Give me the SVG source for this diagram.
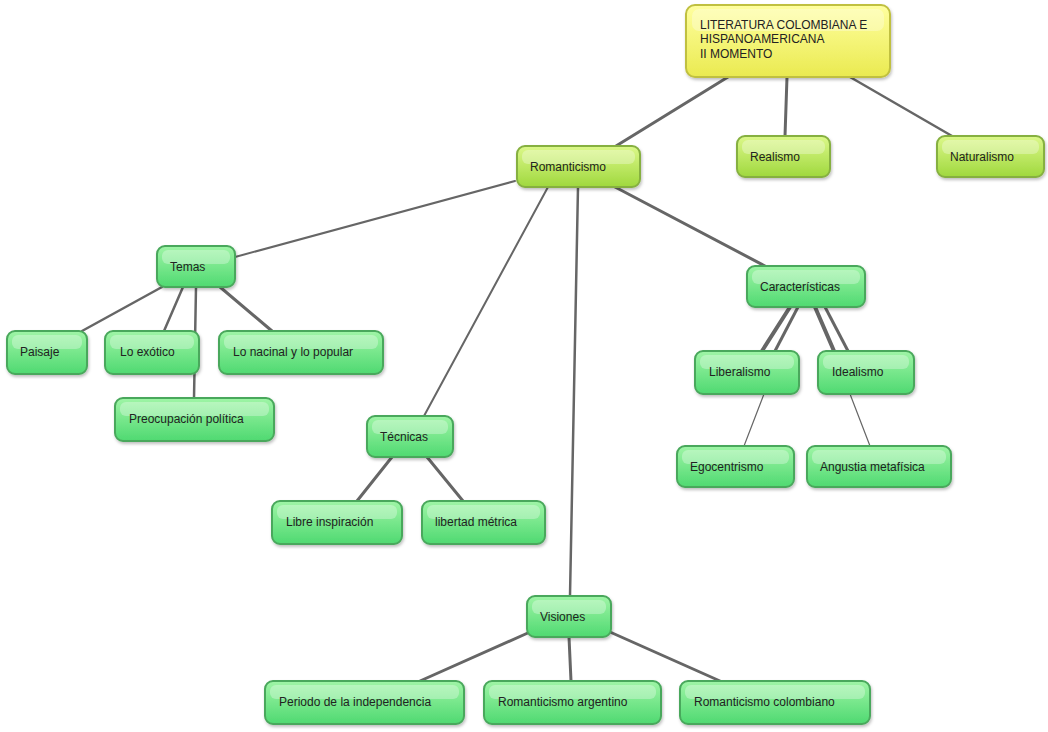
<svg xmlns="http://www.w3.org/2000/svg" width="1048" height="732" viewBox="0 0 1048 732">
<defs>
<linearGradient id="g" x1="0" y1="0" x2="0" y2="1"><stop offset="0" stop-color="#9ff5a6"/><stop offset="1" stop-color="#4fd971"/></linearGradient>
<linearGradient id="lg" x1="0" y1="0" x2="0" y2="1"><stop offset="0" stop-color="#dcf88a"/><stop offset="1" stop-color="#9fd83e"/></linearGradient>
<linearGradient id="y" x1="0" y1="0" x2="0" y2="1"><stop offset="0" stop-color="#ffffa0"/><stop offset="1" stop-color="#eaea50"/></linearGradient>
<filter id="sh" x="-10%" y="-10%" width="130%" height="140%"><feDropShadow dx="1" dy="2" stdDeviation="1.5" flood-color="#000" flood-opacity="0.25"/></filter>
</defs>
<style>
rect.n{fill:url(#g);stroke:#4aa85c;stroke-width:2;filter:url(#sh)}
rect.l{fill:url(#lg);stroke:#86b040;stroke-width:2;filter:url(#sh)}
rect.y{fill:url(#y);stroke:#c0c040;stroke-width:2;filter:url(#sh)}
rect.hl{fill:#fff;opacity:0.3;stroke:none}
text{font-family:"Liberation Sans",Arial,sans-serif;font-size:12px;fill:#222}
line{stroke:#666;stroke-linecap:round}
</style>
<g id="connectors">
<line x1="728" y1="77" x2="616" y2="146" stroke-width="3"/>
<line x1="787" y1="77" x2="785" y2="136" stroke-width="3"/>
<line x1="850" y1="77" x2="952" y2="136" stroke-width="2.5"/>
<line x1="515" y1="181" x2="235" y2="257" stroke-width="2"/>
<line x1="548" y1="187" x2="424" y2="416" stroke-width="2"/>
<line x1="578" y1="187" x2="570" y2="596" stroke-width="2.5"/>
<line x1="615" y1="187" x2="765" y2="266" stroke-width="3"/>
<line x1="162" y1="287" x2="82" y2="331" stroke-width="2.5"/>
<line x1="183" y1="287" x2="164" y2="331" stroke-width="2.5"/>
<line x1="196" y1="287" x2="194" y2="398" stroke-width="2.5"/>
<line x1="220" y1="287" x2="272" y2="331" stroke-width="3"/>
<line x1="392" y1="457" x2="357" y2="501" stroke-width="3"/>
<line x1="427" y1="457" x2="463" y2="501" stroke-width="3"/>
<line x1="790" y1="307" x2="762" y2="351" stroke-width="4"/>
<line x1="798" y1="307" x2="775" y2="351" stroke-width="3"/>
<line x1="815" y1="307" x2="834" y2="351" stroke-width="4"/>
<line x1="825" y1="307" x2="848" y2="351" stroke-width="3"/>
<line x1="764" y1="394" x2="744" y2="446" stroke-width="1.2"/>
<line x1="850" y1="394" x2="870" y2="446" stroke-width="1.2"/>
<line x1="530" y1="632" x2="420" y2="681" stroke-width="3"/>
<line x1="569" y1="637" x2="571" y2="681" stroke-width="3"/>
<line x1="610" y1="632" x2="720" y2="681" stroke-width="3"/>
</g>
<g id="root"><rect class="y" x="686" y="5" width="204" height="72" rx="9"/><rect class="hl" x="692" y="9" width="192" height="22" rx="7"/><text x="700" y="29">LITERATURA COLOMBIANA  E</text><text x="700" y="43">HISPANOAMERICANA</text><text x="700" y="58">II MOMENTO</text></g>
<g id="realismo"><rect class="l" x="737" y="136" width="93" height="41" rx="8"/><rect class="hl" x="742" y="140" width="83" height="14" rx="6"/><text x="750" y="161">Realismo</text></g>
<g id="naturalismo"><rect class="l" x="937" y="136" width="107" height="41" rx="8"/><rect class="hl" x="942" y="140" width="97" height="14" rx="6"/><text x="950" y="161">Naturalismo</text></g>
<g id="romanticismo"><rect class="l" x="517" y="146" width="123" height="41" rx="8"/><rect class="hl" x="522" y="150" width="113" height="14" rx="6"/><text x="530" y="171">Romanticismo</text></g>
<g id="temas"><rect class="n" x="157" y="246" width="78" height="41" rx="8"/><rect class="hl" x="162" y="250" width="68" height="14" rx="6"/><text x="170" y="271">Temas</text></g>
<g id="paisaje"><rect class="n" x="7" y="331" width="80" height="43" rx="8"/><rect class="hl" x="12" y="335" width="70" height="14" rx="6"/><text x="20" y="356">Paisaje</text></g>
<g id="exotico"><rect class="n" x="105" y="331" width="94" height="43" rx="8"/><rect class="hl" x="110" y="335" width="84" height="14" rx="6"/><text x="120" y="356">Lo exótico</text></g>
<g id="nacinal"><rect class="n" x="219" y="331" width="164" height="43" rx="8"/><rect class="hl" x="224" y="335" width="154" height="14" rx="6"/><text x="233" y="356">Lo nacinal y lo popular</text></g>
<g id="preocupacion"><rect class="n" x="115" y="398" width="159" height="43" rx="8"/><rect class="hl" x="120" y="402" width="149" height="14" rx="6"/><text x="129" y="423">Preocupación política</text></g>
<g id="tecnicas"><rect class="n" x="367" y="416" width="86" height="41" rx="8"/><rect class="hl" x="372" y="420" width="76" height="14" rx="6"/><text x="380" y="441">Técnicas</text></g>
<g id="libre"><rect class="n" x="272" y="501" width="130" height="43" rx="8"/><rect class="hl" x="277" y="505" width="120" height="14" rx="6"/><text x="286" y="526">Libre inspiración</text></g>
<g id="libertad"><rect class="n" x="422" y="501" width="123" height="43" rx="8"/><rect class="hl" x="427" y="505" width="113" height="14" rx="6"/><text x="435" y="526">libertad métrica</text></g>
<g id="caracteristicas"><rect class="n" x="747" y="266" width="118" height="41" rx="8"/><rect class="hl" x="752" y="270" width="108" height="14" rx="6"/><text x="760" y="291">Características</text></g>
<g id="liberalismo"><rect class="n" x="695" y="351" width="104" height="43" rx="8"/><rect class="hl" x="700" y="355" width="94" height="14" rx="6"/><text x="709" y="376">Liberalismo</text></g>
<g id="idealismo"><rect class="n" x="818" y="351" width="96" height="43" rx="8"/><rect class="hl" x="823" y="355" width="86" height="14" rx="6"/><text x="832" y="376">Idealismo</text></g>
<g id="egocentrismo"><rect class="n" x="677" y="446" width="117" height="41" rx="8"/><rect class="hl" x="682" y="450" width="107" height="14" rx="6"/><text x="690" y="471">Egocentrismo</text></g>
<g id="angustia"><rect class="n" x="807" y="446" width="144" height="41" rx="8"/><rect class="hl" x="812" y="450" width="134" height="14" rx="6"/><text x="820" y="471">Angustia metafísica</text></g>
<g id="visiones"><rect class="n" x="527" y="596" width="84" height="41" rx="8"/><rect class="hl" x="532" y="600" width="74" height="14" rx="6"/><text x="540" y="621">Visiones</text></g>
<g id="periodo"><rect class="n" x="265" y="681" width="199" height="43" rx="8"/><rect class="hl" x="270" y="685" width="189" height="14" rx="6"/><text x="279" y="706">Periodo de la independencia</text></g>
<g id="argentino"><rect class="n" x="484" y="681" width="177" height="43" rx="8"/><rect class="hl" x="489" y="685" width="167" height="14" rx="6"/><text x="498" y="706">Romanticismo argentino</text></g>
<g id="colombiano"><rect class="n" x="680" y="681" width="190" height="43" rx="8"/><rect class="hl" x="685" y="685" width="180" height="14" rx="6"/><text x="694" y="706">Romanticismo colombiano</text></g>
</svg>
